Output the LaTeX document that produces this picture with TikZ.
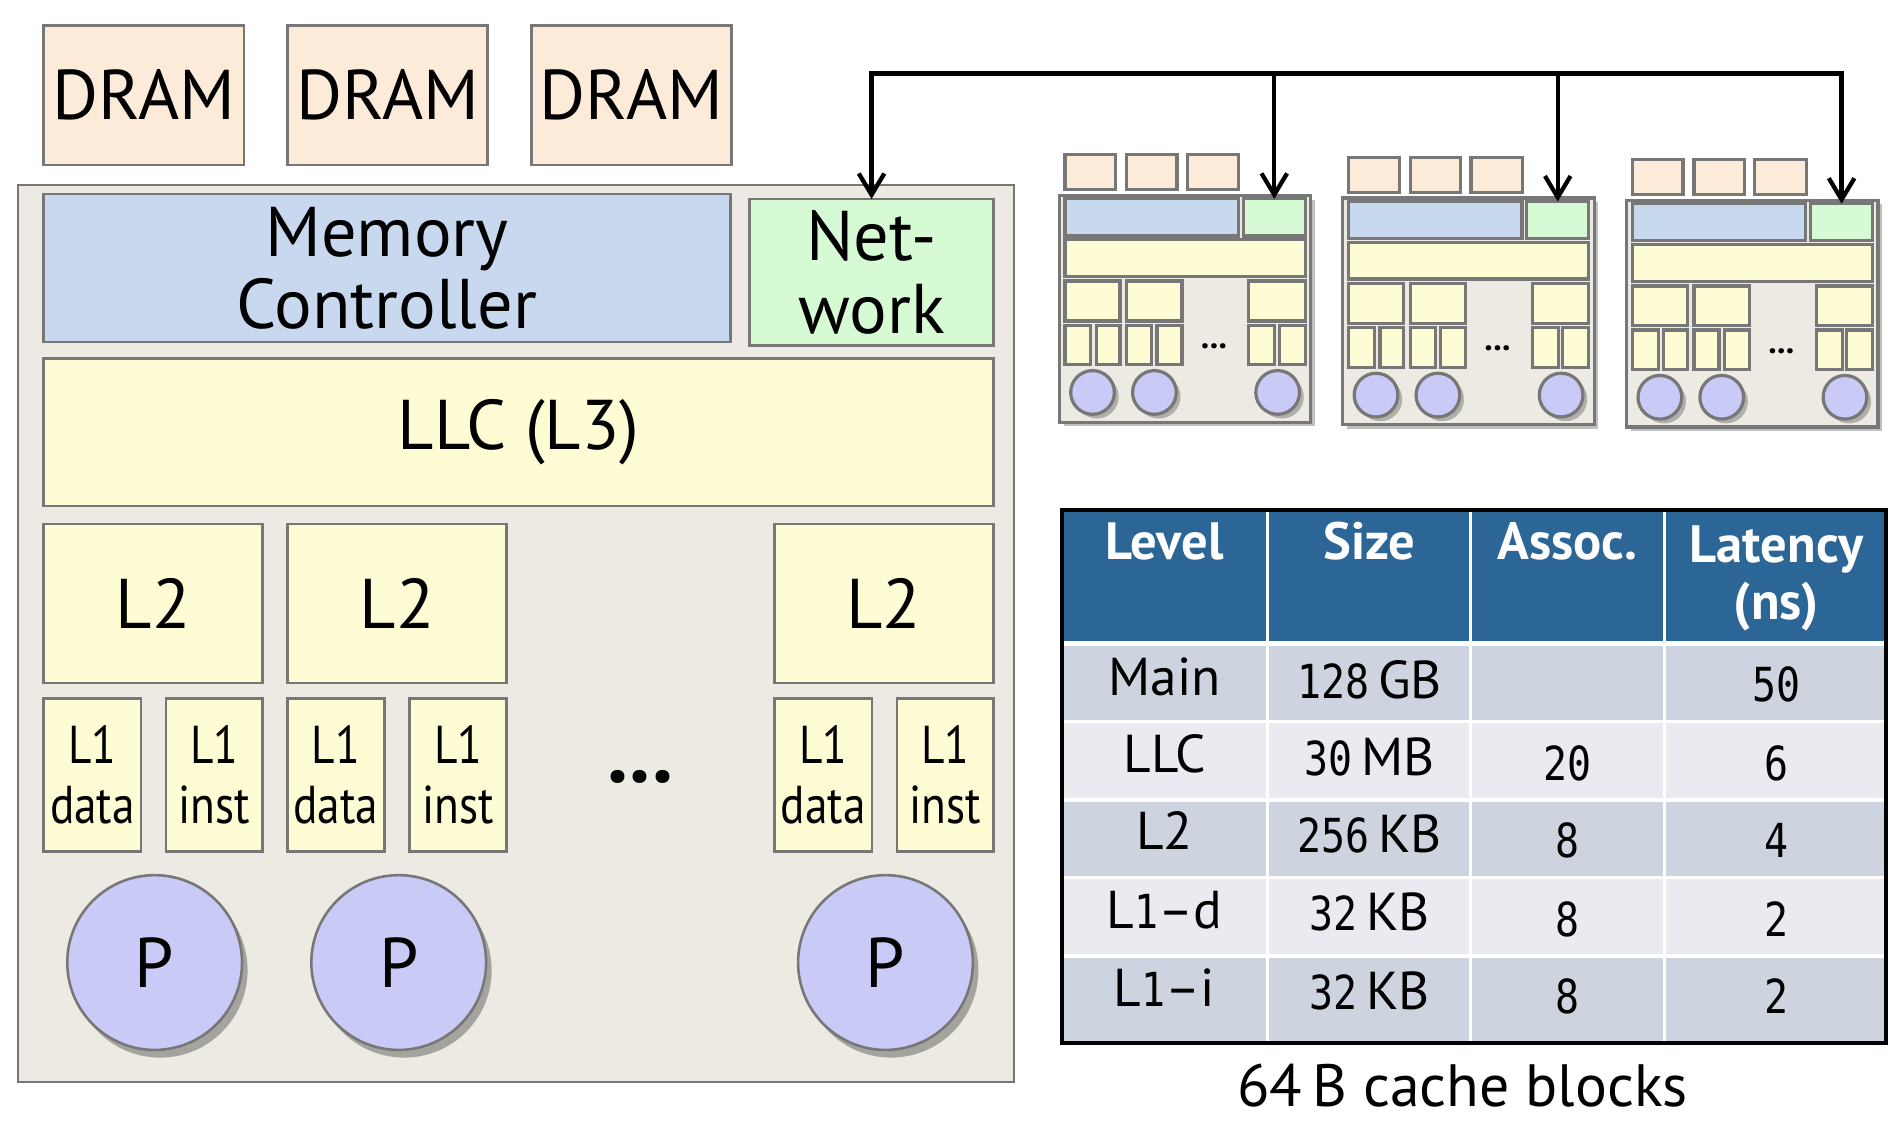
\documentclass[tikz,border=0pt]{standalone}
\usepackage{fontspec}
\setmainfont{PT Sans}
\newfontfamily\condfont{PT Sans}[FakeStretch=0.85]
\newfontfamily\numfont{DejaVu Sans Mono}[FakeStretch=0.85]
\usetikzlibrary{arrows.meta,shadows}
\definecolor{dramc}{HTML}{FCEBD8}
\definecolor{chipc}{HTML}{EDEAE3}
\definecolor{mcc}{HTML}{C8D8EE}
\definecolor{netc}{HTML}{D6FAD4}
\definecolor{cachec}{HTML}{FDFCD4}
\definecolor{procc}{HTML}{CACAF6}
\definecolor{edgec}{HTML}{777777}
\definecolor{hdrc}{HTML}{2C6696}
\definecolor{rowa}{HTML}{CDD4DF}
\definecolor{rowb}{HTML}{E9EBF0}
\newcommand\rbox[7]{\node[#6, minimum width={(#4-#2)*0.01cm}, minimum height={(#5-#3)*0.01cm}] (#1) at ({(#2+#4)/2},{(#3+#5)/2}) {#7};}
\tikzset{
  box/.style={draw=edgec, line width=0.6pt, inner sep=0pt, outer sep=0pt, align=center},
  mini/.style={draw=edgec, line width=0.75pt, inner sep=0pt, outer sep=0pt},
  bigtxt/.style={font=\fontsize{16.5}{17}\selectfont},
  l1txt/.style={font=\condfont\fontsize{12.5}{14}\selectfont},
  pshadow/.style={drop shadow={shadow xshift=1.3pt, shadow yshift=-1.8pt, fill=black, opacity=0.3}},
  mshadow/.style={drop shadow={shadow xshift=1pt, shadow yshift=-1pt, fill=black, opacity=0.25}},
  proc/.style={circle, draw=edgec, line width=0.6pt, fill=procc, inner sep=0pt, outer sep=0pt, minimum size=1.44cm, pshadow},
  mproc/.style={circle, draw=edgec, line width=0.75pt, fill=procc, inner sep=0pt, outer sep=0pt, minimum size=0.36cm, mshadow},
  busline/.style={line width=1pt, line cap=rect},
  busarrow/.style={line width=1pt, -{Straight Barb[length=5pt,width=6pt,line width=1pt]}},
  thead/.style={text=white, inner sep=0pt, anchor=base, font=\bfseries\fontsize{12.3}{13.5}\selectfont},
  tcell/.style={inner sep=0pt, anchor=base, font=\fontsize{12.5}{13.5}\selectfont},
  tnum/.style={inner sep=0pt, anchor=base, font=\numfont\fontsize{11}{12}\selectfont},
  sep/.style={white, line width=0.8pt}
}
\newcommand\nm[1]{{\numfont\fontsize{11}{12}\selectfont #1}}
\begin{document}
\begin{tikzpicture}[x=0.01cm, y=-0.01cm]
\useasboundingbox (0,0) rectangle (1568,938);
% ---------- big chip ----------
\rbox{dram1}{36}{21}{201}{136}{box, fill=dramc, bigtxt}{DRAM}
\rbox{dram2}{237}{21}{402}{136}{box, fill=dramc, bigtxt}{DRAM}
\rbox{dram3}{438}{21}{603}{136}{box, fill=dramc, bigtxt}{DRAM}
\rbox{chip}{15}{152.5}{836}{892}{box, fill=chipc}{}
\rbox{mc}{36}{160}{602}{282}{box, fill=mcc, bigtxt}{Memory\\Controller}
\rbox{net}{618}{164}{819}{285}{box, fill=netc, bigtxt}{Net-\\work}
\rbox{llc}{36}{295.5}{819}{417}{box, fill=cachec, bigtxt}{LLC (L3)}
\rbox{l2a}{36}{432}{216.6}{563}{box, fill=cachec, bigtxt}{L2}
\rbox{l2b}{237}{432}{417.6}{563}{box, fill=cachec, bigtxt}{L2}
\rbox{l2c}{638.5}{432}{819}{563}{box, fill=cachec, bigtxt}{L2}
\rbox{l1da}{36}{576}{116.4}{702}{box, fill=cachec, l1txt}{L1\\data}
\rbox{l1ia}{136.9}{576}{216.6}{702}{box, fill=cachec, l1txt}{L1\\inst}
\rbox{l1db}{237}{576}{316.8}{702}{box, fill=cachec, l1txt}{L1\\data}
\rbox{l1ib}{337.8}{576}{417.6}{702}{box, fill=cachec, l1txt}{L1\\inst}
\rbox{l1dc}{638.5}{576}{718.8}{702}{box, fill=cachec, l1txt}{L1\\data}
\rbox{l1ic}{739.3}{576}{819}{702}{box, fill=cachec, l1txt}{L1\\inst}
\node[inner sep=0pt, anchor=base, font=\bfseries\fontsize{20}{20}\selectfont] (dots) at (528,645) {...};
\node[proc, bigtxt] (pa) at (127.5,793.5) {P};
\node[proc, bigtxt] (pb) at (328.7,793.5) {P};
\node[proc, bigtxt] (pc) at (730,793.5) {P};
% ---------- mini chips ----------
\foreach \c/\dx/\dy in {1/0/0, 2/233.7/2.2, 3/467.7/4}{
\begin{scope}[shift={(\dx,\dy)}]
\rbox{m\c-chip}{873.3}{161}{1080.5}{348}{mini, fill=chipc, mshadow}{}
\rbox{m\c-dram1}{878}{127.3}{919.8}{156.4}{mini, fill=dramc}{}
\rbox{m\c-dram2}{928.8}{127.3}{970.3}{156.4}{mini, fill=dramc}{}
\rbox{m\c-dram3}{979}{127.3}{1021.3}{156.4}{mini, fill=dramc}{}
\rbox{m\c-mc}{878}{163.9}{1021}{194.5}{mini, fill=mcc}{}
\rbox{m\c-net}{1025}{163.9}{1076}{194.5}{mini, fill=netc}{}
\rbox{m\c-llc}{878}{197.5}{1076}{227.8}{mini, fill=cachec}{}
\rbox{m\c-l2a}{878}{231.7}{923.4}{264.6}{mini, fill=cachec}{}
\rbox{m\c-l2b}{928.8}{231.7}{974.4}{264.6}{mini, fill=cachec}{}
\rbox{m\c-l2c}{1029.5}{231.7}{1076}{264.6}{mini, fill=cachec}{}
\rbox{m\c-l1a}{878}{268}{899.3}{300.7}{mini, fill=cachec}{}
\rbox{m\c-l1b}{903.9}{268}{923.4}{300.7}{mini, fill=cachec}{}
\rbox{m\c-l1c}{928.8}{268}{949.4}{300.7}{mini, fill=cachec}{}
\rbox{m\c-l1d}{953.9}{268}{974.4}{300.7}{mini, fill=cachec}{}
\rbox{m\c-l1e}{1029.5}{268}{1051}{300.7}{mini, fill=cachec}{}
\rbox{m\c-l1f}{1054.6}{268}{1076}{300.7}{mini, fill=cachec}{}
\node[inner sep=0pt, anchor=base, font=\bfseries\fontsize{8}{8}\selectfont] (m\c-dots) at (1000.8,287) {...};
\node[mproc] (m\c-pa) at (900.7,323.5) {};
\node[mproc] (m\c-pb) at (951.7,323.5) {};
\node[mproc] (m\c-pc) at (1053.3,323.5) {};
\end{scope}}
% ---------- network bus ----------
\coordinate (bus) at (0,60.5);
\draw[busline] (net.north |- bus) -- (m3-net.north |- bus);
\foreach \t in {net, m1-net, m2-net, m3-net}
  \draw[busarrow] (\t.north |- bus) -- (\t.north);
% ---------- table ----------
\fill[hdrc] (875.5,420.6) rectangle (1555,528.4);
\fill[rowa] (875.5,532.6) rectangle (1555,595);
\fill[rowb] (875.5,595) rectangle (1555,659.5);
\fill[rowa] (875.5,659.5) rectangle (1555,723.5);
\fill[rowb] (875.5,723.5) rectangle (1555,788);
\fill[rowa] (875.5,788) rectangle (1555,860);
\foreach \yy in {595,659.5,723.5,788} \draw[sep] (875.5,\yy) -- (1555,\yy);
\foreach \xx in {1045,1212.5,1372} \draw[sep] (\xx,420.6) -- (\xx,860);
\draw[line width=0.9pt] (875.5,420.6) rectangle (1555,860);
\node[thead] (h1) at (960,461) {Level};
\node[thead] (h2) at (1129,461) {Size};
\node[thead] (h3) at (1292,461) {Assoc.};
\node[thead, anchor=north, align=center] (h4) at (1464.5,432.4) {Latency\\(ns)};
% rows
\node[tcell] (r1a) at (960,573) {Main};
\node[tcell] (r1b) at (1129,575.5) {\nm{128}\,GB};
\node[tnum] (r1d) at (1464.5,578.7) {50};
\node[tcell] (r2a) at (960,637) {LLC};
\node[tcell] (r2b) at (1129,639) {\nm{30}\,MB};
\node[tnum] (r2c) at (1292,643.7) {20};
\node[tnum] (r2d) at (1464.5,643.7) {6};
\node[tcell] (r3a) at (960,700) {L2};
\node[tcell] (r3b) at (1129,703) {\nm{256}\,KB};
\node[tnum] (r3c) at (1292,707) {8};
\node[tnum] (r3d) at (1464.5,707) {4};
\node[tcell] (r4a) at (960,765.6) {L\nm{1}–d};
\node[tcell] (r4b) at (1129,767) {\nm{32}\,KB};
\node[tnum] (r4c) at (1292,772) {8};
\node[tnum] (r4d) at (1464.5,772) {2};
\node[tcell] (r5a) at (960,830) {L\nm{1}–i};
\node[tcell] (r5b) at (1129,832) {\nm{32}\,KB};
\node[tnum] (r5c) at (1292,835.6) {8};
\node[tnum] (r5d) at (1464.5,835.6) {2};
\node[inner sep=0pt, anchor=base, font=\fontsize{14}{14}\selectfont] (foot) at (1205.8,912) {64\,B cache blocks};
\end{tikzpicture}
\end{document}
